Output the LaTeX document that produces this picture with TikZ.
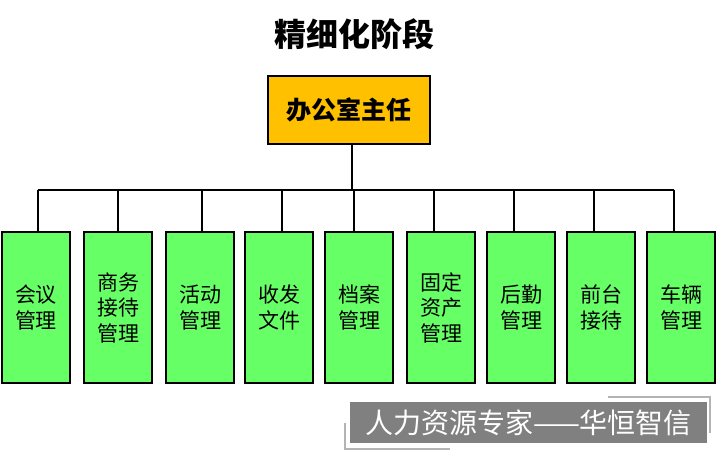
\documentclass[tikz,border=0pt]{standalone}
\usepackage{fontspec}
\newfontfamily\cjk{Noto Sans CJK SC}
\definecolor{boxgreen}{HTML}{66FF66}
\definecolor{boxorange}{HTML}{FFC000}
\definecolor{wmgray}{HTML}{808080}
\definecolor{wmline}{HTML}{B4B4B4}
\begin{document}
\begin{tikzpicture}[x=1pt,y=-1pt,
  unitbox/.style={draw=black, line width=2.5pt, fill=boxgreen, minimum width=68pt, minimum height=151pt, inner sep=0pt, align=center, font=\cjk\fontsize{21}{25.5}\selectfont},
  headbox/.style={draw=black, line width=2.5pt, fill=boxorange, minimum width=162pt, minimum height=68pt, inner sep=0pt, font=\cjk\bfseries\fontsize{25}{30}\selectfont},
  link/.style={draw=black, line width=2pt},
  wmbox/.style={fill=wmgray, text=white, minimum width=357pt, minimum height=41pt, inner sep=0pt, font=\cjk\fontsize{28}{32}\selectfont},
  wmbracket/.style={draw=wmline, line width=1.5pt}]
\useasboundingbox (0,0) rectangle (720,452);
\fill[white] (0,0) rectangle (720,452);

\node[font=\cjk\bfseries\fontsize{32}{38}\selectfont] (title) at (354,34) {精细化阶段};
\node[headbox] (head) at (349,110) {办公室主任};

\node[unitbox] (b1) at (36,307.5) {会议\\管理};
\node[unitbox] (b2) at (118,307.5) {商务\\接待\\管理};
\node[unitbox] (b3) at (200,307.5) {活动\\管理};
\node[unitbox] (b4) at (279,307.5) {收发\\文件};
\node[unitbox] (b5) at (359,307.5) {档案\\管理};
\node[unitbox] (b6) at (441,307.5) {固定\\资产\\管理};
\node[unitbox] (b7) at (521,307.5) {后勤\\管理};
\node[unitbox] (b8) at (601,307.5) {前台\\接待};
\node[unitbox] (b9) at (681,307.5) {车辆\\管理};

\coordinate (j) at (352,190);
\coordinate (c1) at (38,190);
\coordinate (c2) at (118,190);
\coordinate (c3) at (202,190);
\coordinate (c4) at (282,190);
\coordinate (c5) at (354,190);
\coordinate (c6) at (434,190);
\coordinate (c7) at (514,190);
\coordinate (c8) at (594,190);
\coordinate (c9) at (674,190);

\draw[link] (head.south -| j) -- (j);
\draw[link] (c1) -- (c9);
\foreach \i in {1,...,9} {
  \draw[link] (c\i) -- (c\i |- b\i.north);
}

\node[wmbox] (wm) at (528.5,422.5) {人力资源专家——华恒智信};
\draw[wmbracket] (608,397) -- (710,397) -- (710,433);
\draw[wmbracket] (345,423) -- (345,449) -- (450,449);
\end{tikzpicture}
\end{document}
